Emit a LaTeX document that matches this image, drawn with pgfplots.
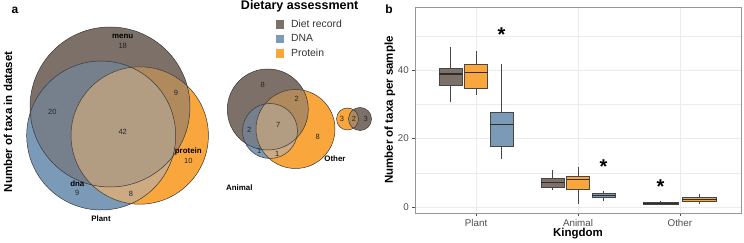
\documentclass[border=0pt]{standalone}
\usepackage{fontspec}
\setmainfont{Liberation Sans}
\usepackage{pgfplots}
\pgfplotsset{compat=1.18}
\usepgfplotslibrary{statistics}
\definecolor{diet}{RGB}{124,112,104}
\definecolor{dna}{RGB}{123,154,183}
\definecolor{protein}{RGB}{249,167,60}
\definecolor{cAB}{RGB}{118,128,140}
\definecolor{cAC}{RGB}{176,138,92}
\definecolor{cBC}{RGB}{205,170,130}
\definecolor{cABC}{RGB}{178,156,130}
\definecolor{vline}{RGB}{55,55,55}
\definecolor{boxline}{RGB}{70,70,70}
\definecolor{medcol}{RGB}{45,45,45}
\definecolor{gridgray}{RGB}{235,235,235}
\definecolor{bordergray}{RGB}{150,150,150}
\definecolor{tickgray}{RGB}{77,77,77}
\newcommand\vennthree[3]{%
  \fill[diet] #1; \fill[dna] #2; \fill[protein] #3;
  \begin{scope}\clip #1; \fill[cAB] #2; \fill[cAC] #3; \end{scope}
  \begin{scope}\clip #2; \fill[cBC] #3; \end{scope}
  \begin{scope}\clip #1; \clip #2; \fill[cABC] #3; \end{scope}
  \draw[vline, line width=0.5pt] #1; \draw[vline, line width=0.5pt] #2; \draw[vline, line width=0.5pt] #3;
}
\newcommand\vnum[3]{\node[font=\fontsize{7.5}{8}\selectfont, text=black!85] at (axis cs:#1,#2) {#3};}
\newcommand\vname[3]{\node[font=\bfseries\fontsize{7.9}{8}\selectfont, text=black] at (axis cs:#1,#2) {#3};}
\begin{document}
\begin{tikzpicture}
\path[use as bounding box] (0,0) rectangle (744pt,243pt);
% ---------------- panel a: Euler diagrams ----------------
\begin{axis}[at={(0pt,0pt)}, anchor=south west, x=1pt, y=1pt,
  xmin=0, xmax=400, ymin=0, ymax=243, hide axis, clip=false,
  legend image code/.code={\fill[#1] (0pt,-4.35pt) rectangle (8.7pt,4.35pt);},
  legend style={at={(axis cs:275.7,223.35)}, anchor=north west, draw=none, fill=none,
    inner sep=0pt, outer sep=0pt, row sep=5.9pt,
    font=\fontsize{10.4}{12}\selectfont,
    nodes={inner sep=0pt, text=black!80},
    /tikz/every odd column/.append style={column sep=6.7pt}},
  legend cell align=left]
\addlegendimage{fill=diet, draw=none}
\addlegendentry{Diet record}
\addlegendimage{fill=dna, draw=none}
\addlegendentry{DNA}
\addlegendimage{fill=protein, draw=none}
\addlegendentry{Protein}
% Plant
\vennthree{(axis cs:110,136) circle[radius=80]}{(axis cs:101.2,107.5) circle[radius=74.5]}{(axis cs:139.7,107.5) circle[radius=68.7]}
% Animal
\vennthree{(axis cs:267.8,133.5) circle[radius=40.5]}{(axis cs:270,112) circle[radius=27.5]}{(axis cs:295.5,114) circle[radius=39.5]}
% Other
\fill[protein] (axis cs:347.5,124) circle[radius=11];
\fill[diet] (axis cs:360,124) circle[radius=11.5];
\begin{scope}\clip (axis cs:347.5,124) circle[radius=11]; \fill[cAC] (axis cs:360,124) circle[radius=11.5]; \end{scope}
\draw[vline, line width=0.5pt] (axis cs:347.5,124) circle[radius=11];
\draw[vline, line width=0.5pt] (axis cs:360,124) circle[radius=11.5];
% labels Plant
\vname{122.7}{207}{menu} \vnum{122.7}{197}{18}
\vnum{52.3}{131}{20} \vnum{122.7}{110.7}{42} \vnum{176}{149.7}{9}
\vname{188.3}{92}{protein} \vnum{188.3}{82}{10}
\vname{77.3}{59}{dna} \vnum{77.3}{49.7}{9}
\vnum{131}{49}{8}
\vname{101}{24}{Plant}
% labels Animal
\vnum{262.7}{158}{8} \vnum{296.7}{144}{2} \vnum{249.3}{113}{2} \vnum{278.3}{118}{7}
\vnum{317.7}{105.7}{8} \vnum{259.3}{92.3}{1} \vnum{277.3}{88.7}{1}
\vname{335}{84}{Other} \vname{239.3}{55.7}{Animal}
% labels Other
\vnum{342}{124}{3} \vnum{354}{124}{2} \vnum{365.7}{124}{3}
% titles
\node[font=\bfseries\fontsize{11.5}{12}\selectfont, rotate=90] at (axis cs:8,121) {Number of taxa in dataset};
\node[font=\bfseries\fontsize{12.5}{13}\selectfont] at (axis cs:299.7,236.3) {Dietary assessment};
\node[font=\bfseries\fontsize{12}{12}\selectfont] at (axis cs:15,233) {a};
\node[font=\bfseries\fontsize{12}{12}\selectfont] at (axis cs:389,234) {b};
\end{axis}
% ---------------- panel b: boxplots ----------------
\begin{axis}[at={(415pt,30pt)}, anchor=south west, scale only axis, width=326pt, height=206pt,
  xmin=0.4, xmax=3.6, ymin=-1.8, ymax=58.5,
  xtick={1,2,3}, xticklabels={Plant,Animal,Other},
  ytick={0,20,40}, minor ytick={10,30,50},
  xmajorgrids, ymajorgrids, yminorgrids,
  major grid style={draw=gridgray, line width=0.55pt},
  minor grid style={draw=gridgray, line width=0.3pt},
  axis line style={draw=bordergray, line width=0.6pt},
  tick align=outside, tick pos=left, major tick length=2.75pt, minor tick length=0pt,
  tick style={draw=tickgray, line width=0.5pt},
  ticklabel style={font=\fontsize{9.8}{10}\selectfont, text=tickgray},
  /pgf/number format/assume math mode=true,
  xlabel={Kingdom}, ylabel={Number of taxa per sample},
  label style={font=\bfseries\fontsize{11.5}{12}\selectfont},
  xlabel style={at={(axis description cs:0.5,-0.102)}, anchor=center},
  ylabel style={at={(axis description cs:-0.077,0.5)}, anchor=center},
  boxplot/draw direction=y,
  boxplot/every median/.style={draw=medcol, line width=1.2pt},
  boxplot/whisker extend=0,
]
% Plant
\addplot[draw=boxline, fill=diet, line width=0.6pt, boxplot prepared={draw position=0.75, box extend=0.225,
  lower whisker=30.8, lower quartile=35.7, median=38.9, upper quartile=40.7, upper whisker=46.7}] coordinates {};
\addplot[draw=boxline, fill=protein, line width=0.6pt, boxplot prepared={draw position=1.0, box extend=0.225,
  lower whisker=32.8, lower quartile=34.7, median=39.3, upper quartile=41.8, upper whisker=45.6}] coordinates {};
\addplot[draw=boxline, fill=dna, line width=0.6pt, boxplot prepared={draw position=1.25, box extend=0.225,
  lower whisker=13.9, lower quartile=17.6, median=24.2, upper quartile=27.8, upper whisker=41.7}] coordinates {};
% Animal
\addplot[draw=boxline, fill=diet, line width=0.6pt, boxplot prepared={draw position=1.75, box extend=0.225,
  lower whisker=4.8, lower quartile=5.8, median=7.2, upper quartile=8.4, upper whisker=10.8}] coordinates {};
\addplot[draw=boxline, fill=protein, line width=0.6pt, boxplot prepared={draw position=2.0, box extend=0.225,
  lower whisker=0.9, lower quartile=5.0, median=7.9, upper quartile=8.9, upper whisker=11.8}] coordinates {};
\addplot[draw=boxline, fill=dna, line width=0.6pt, boxplot prepared={draw position=2.25, box extend=0.225,
  lower whisker=1.8, lower quartile=2.7, median=3.4, upper quartile=4.0, upper whisker=4.7}] coordinates {};
% Other
\addplot[draw=boxline, fill=diet, line width=0.6pt, boxplot prepared={draw position=2.81, box extend=0.34,
  lower whisker=0.7, lower quartile=0.7, median=1.0, upper quartile=1.4, upper whisker=1.75}] coordinates {};
\addplot[draw=boxline, fill=protein, line width=0.6pt, boxplot prepared={draw position=3.19, box extend=0.34,
  lower whisker=0.8, lower quartile=1.6, median=2.25, upper quartile=2.9, upper whisker=3.8}] coordinates {};
% significance stars
\node[font=\bfseries\fontsize{20}{20}\selectfont, yshift=-4.3pt] at (axis cs:1.25,51.8) {*};
\node[font=\bfseries\fontsize{20}{20}\selectfont, yshift=-4.3pt] at (axis cs:2.25,13) {*};
\node[font=\bfseries\fontsize{20}{20}\selectfont, yshift=-4.3pt] at (axis cs:2.81,7.2) {*};
\end{axis}
\end{tikzpicture}
\end{document}
